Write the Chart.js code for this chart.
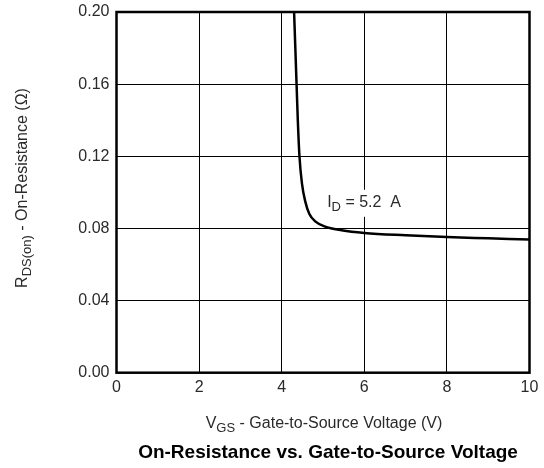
<!DOCTYPE html>
<html>
<head>
<meta charset="utf-8">
<script src="https://cdn.jsdelivr.net/npm/chart.js@4.4.1/dist/chart.umd.min.js"></script>
<style>
  body { margin: 0; background: #fff; }
</style>
</head>
<body>
<canvas id="myChart" width="544" height="468"></canvas>
<script>
// V_GS (V) and R_DS(on) (ohm), I_D = 5.2 A
const vgs  = [4.30, 4.33, 4.36, 4.39, 4.43, 4.49, 4.57, 4.67, 4.82, 5.05, 5.45, 6.0, 7.0, 8.0, 9.0, 10.0];
const rdson = [0.200, 0.180, 0.160, 0.140, 0.120, 0.105, 0.095, 0.088, 0.0838, 0.0810, 0.0790, 0.0775, 0.0762, 0.0752, 0.0745, 0.0738];
const xTicks = [0, 2, 4, 6, 8, 10];
const yTicks = [0.00, 0.04, 0.08, 0.12, 0.16, 0.20];
const curveLabel = 'I|D| = 5.2  A';

const FONT = 'Liberation Sans, Arial, sans-serif';
const TXT = '#2a2a2a';
const FS = 16;

// draw "base|sub|rest" style text, returns width
function richText(c, str, x, y, size, measureOnly) {
  const parts = str.split('|');
  let w = 0;
  parts.forEach((p, i) => {
    const sub = i % 2 === 1;
    c.font = (sub ? size - 3 : size) + 'px ' + FONT;
    if (!measureOnly) c.fillText(p, x + w, y + (sub ? 4 : 0));
    w += c.measureText(p).width;
  });
  return w;
}

const ctx = document.getElementById('myChart');

const extras = {
  id: 'extras',
  afterDraw(chart) {
    const c = chart.ctx;
    const a = chart.chartArea;
    const xs = chart.scales.x, ys = chart.scales.y;
    c.save();
    // heavy frame
    c.strokeStyle = '#000';
    c.lineWidth = 2.5;
    c.strokeRect(a.left, a.top, a.right - a.left, a.bottom - a.top);

    // curve label with white box
    c.textBaseline = 'alphabetic';
    const lx = xs.getPixelForValue(5.1), ly = ys.getPixelForValue(0.092);
    const lw = richText(c, curveLabel, 0, 0, FS, true);
    c.fillStyle = '#fff';
    c.fillRect(lx - 3, ly - 17, lw + 6, 27);
    c.fillStyle = TXT;
    richText(c, curveLabel, lx, ly, FS);

    // x title
    const xt = 'V|GS| - Gate-to-Source Voltage (V)';
    const xw = richText(c, xt, 0, 0, FS, true);
    richText(c, xt, 324 - xw / 2, 428, FS);

    // y title (rotated)
    c.translate(27, 188);
    c.rotate(-Math.PI / 2);
    const yt = 'R|DS(on)| - On-Resistance (\u03A9)';
    const yw = richText(c, yt, 0, 0, FS, true);
    richText(c, yt, -yw / 2, 0, FS);
    c.restore();

    // bold caption
    c.save();
    c.fillStyle = '#000';
    c.font = 'bold 19px ' + FONT;
    c.textAlign = 'center';
    c.fillText('On-Resistance vs. Gate-to-Source Voltage', 328, 458);
    c.restore();
  }
};

new Chart(ctx, {
  type: 'line',
  data: {
    datasets: [{
      data: vgs.map((v, i) => ({ x: v, y: rdson[i] })),
      borderColor: '#000',
      borderWidth: 2.5,
      pointRadius: 0,
      cubicInterpolationMode: 'monotone',
      fill: false
    }]
  },
  options: {
    responsive: false,
    animation: false,
    layout: { padding: { top: 12, right: 14.5, left: 0, bottom: 0 } },
    plugins: { legend: { display: false }, tooltip: { enabled: false } },
    scales: {
      x: {
        type: 'linear',
        min: 0, max: 10,
        afterBuildTicks: s => { s.ticks = xTicks.map(v => ({ value: v })); },
        afterFit: s => { s.height = 95.3; s.paddingLeft = 0; s.paddingRight = 0; },
        grid: { color: '#000', lineWidth: 1, drawTicks: false },
        border: { display: false },
        ticks: { color: TXT, font: { family: FONT, size: FS }, padding: 5, callback: v => String(v) }
      },
      y: {
        min: 0, max: 0.2,
        afterBuildTicks: s => { s.ticks = yTicks.map(v => ({ value: v })); },
        afterFit: s => { s.width = 116.5; s.paddingTop = 0; s.paddingBottom = 0; },
        grid: { color: '#000', lineWidth: 1, drawTicks: false },
        border: { display: false },
        ticks: { color: TXT, font: { family: FONT, size: FS }, padding: 7, callback: v => v.toFixed(2) }
      }
    }
  },
  plugins: [extras]
});
</script>
</body>
</html>
